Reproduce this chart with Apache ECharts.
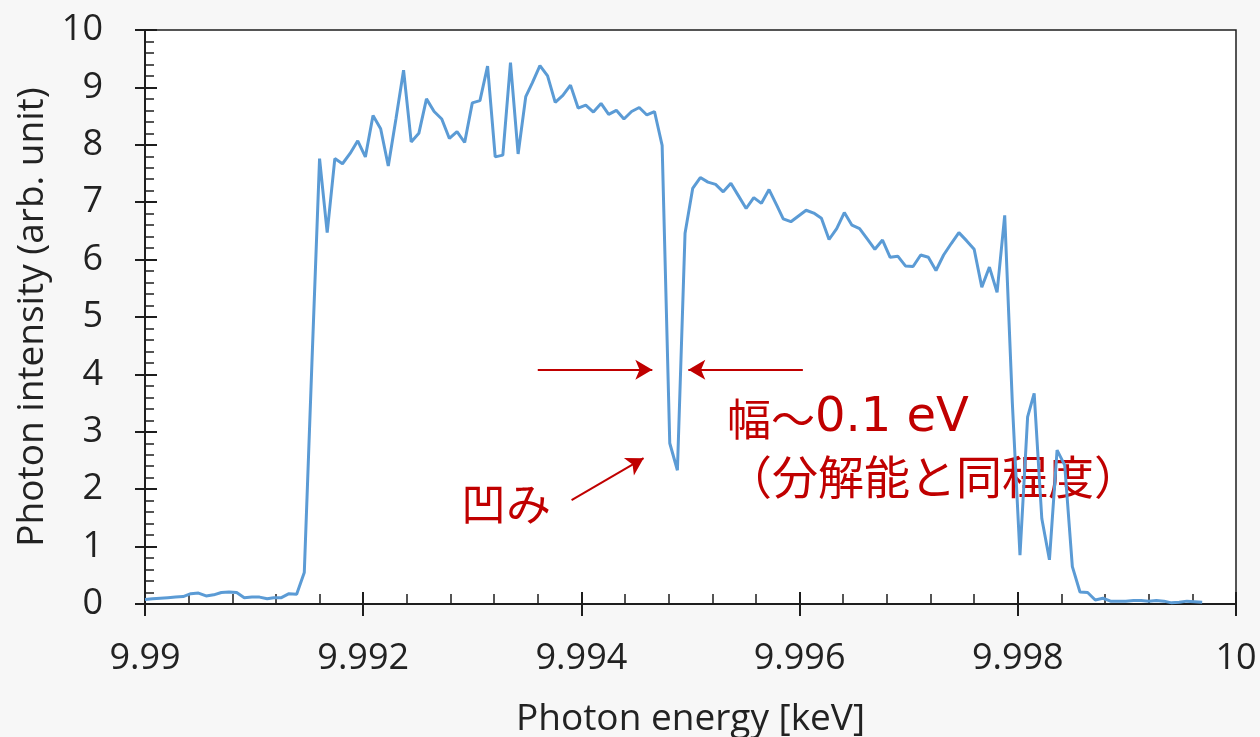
<!DOCTYPE html>
<html>
<head>
<meta charset="utf-8">
<title>Photon intensity spectrum</title>
<script src="https://cdn.jsdelivr.net/npm/echarts@6/dist/echarts.min.js"></script>
<style>
  html, body { margin: 0; padding: 0; background: #f7f7f7; }
  #chart { width: 1260px; height: 737px; }
</style>
</head>
<body>
<div id="chart"></div>
<script>
// Sampled photon energies [keV]
const ENERGY_KEV = [
  9.99000, 9.99007, 9.99014, 9.99021, 9.99028, 9.99035, 9.99042, 9.99049, 9.99056, 9.99063,
  9.99070, 9.99077, 9.99084, 9.99091, 9.99098, 9.99105, 9.99112, 9.99118, 9.99125, 9.99132,
  9.99139, 9.99146, 9.99153, 9.99160, 9.99167, 9.99174, 9.99181, 9.99188, 9.99195, 9.99202,
  9.99209, 9.99216, 9.99223, 9.99230, 9.99237, 9.99244, 9.99251, 9.99258, 9.99265, 9.99272,
  9.99279, 9.99286, 9.99293, 9.99300, 9.99307, 9.99314, 9.99321, 9.99328, 9.99335, 9.99342,
  9.99349, 9.99355, 9.99362, 9.99369, 9.99376, 9.99383, 9.99390, 9.99397, 9.99404, 9.99411,
  9.99418, 9.99425, 9.99432, 9.99439, 9.99446, 9.99453, 9.99460, 9.99467, 9.99474, 9.99481,
  9.99488, 9.99495, 9.99502, 9.99509, 9.99516, 9.99523, 9.99530, 9.99537, 9.99544, 9.99551,
  9.99558, 9.99565, 9.99572, 9.99579, 9.99585, 9.99592, 9.99599, 9.99606, 9.99613, 9.99620,
  9.99627, 9.99634, 9.99641, 9.99648, 9.99655, 9.99662, 9.99669, 9.99676, 9.99683, 9.99690,
  9.99697, 9.99704, 9.99711, 9.99718, 9.99725, 9.99732, 9.99739, 9.99746, 9.99753, 9.99760,
  9.99767, 9.99774, 9.99781, 9.99788, 9.99795, 9.99802, 9.99809, 9.99815, 9.99822, 9.99829,
  9.99836, 9.99843, 9.99850, 9.99857, 9.99864, 9.99871, 9.99878, 9.99885, 9.99892, 9.99899,
  9.99906, 9.99913, 9.99920, 9.99927, 9.99934, 9.99941, 9.99948, 9.99955, 9.99962, 9.99969
];

// Photon intensity (arb. unit) at each energy
const INTENSITY = [
  0.08, 0.09, 0.10, 0.11, 0.12, 0.13, 0.18, 0.19, 0.14, 0.16,
  0.20, 0.21, 0.20, 0.11, 0.12, 0.12, 0.09, 0.11, 0.11, 0.18,
  0.17, 0.55, 4.20, 7.76, 6.47, 7.76, 7.67, 7.85, 8.07, 7.79,
  8.51, 8.28, 7.63, 8.45, 9.30, 8.05, 8.20, 8.80, 8.58, 8.45,
  8.11, 8.23, 8.04, 8.73, 8.77, 9.37, 7.79, 7.82, 9.43, 7.84,
  8.84, 9.08, 9.38, 9.20, 8.74, 8.86, 9.04, 8.64, 8.69, 8.57,
  8.72, 8.53, 8.60, 8.45, 8.58, 8.65, 8.52, 8.58, 7.99, 2.80,
  2.33, 6.46, 7.24, 7.43, 7.35, 7.31, 7.18, 7.33, 7.11, 6.89,
  7.08, 6.98, 7.22, 6.95, 6.71, 6.66, 6.76, 6.86, 6.81, 6.72,
  6.35, 6.54, 6.82, 6.60, 6.54, 6.36, 6.18, 6.34, 6.04, 6.06,
  5.89, 5.88, 6.08, 6.04, 5.81, 6.08, 6.28, 6.47, 6.33, 6.18,
  5.52, 5.87, 5.43, 6.77, 3.50, 0.85, 3.26, 3.67, 1.49, 0.77,
  2.68, 2.42, 0.65, 0.21, 0.20, 0.07, 0.10, 0.05, 0.05, 0.05,
  0.06, 0.06, 0.05, 0.06, 0.05, 0.02, 0.03, 0.05, 0.04, 0.03
];

// Axis ranges, major and minor tick steps
const X_MIN = 9.99, X_MAX = 10, X_INTERVAL = 0.002, X_MINOR = 0.0004;
const Y_MIN = 0, Y_MAX = 10, Y_INTERVAL = 1, Y_MINOR = 0.2;

// Annotation arrows in data coordinates: [from, to]
const WIDTH_ARROW_LEFT  = [[9.99360, 4.08], [9.99465, 4.08]];
const WIDTH_ARROW_RIGHT = [[9.99603, 4.08], [9.99498, 4.08]];
const DIP_ARROW         = [[9.99391, 1.81], [9.99457, 2.54]];

const AXIS_COLOR = '#1e1e1e';
const LABEL_COLOR = '#222222';
const LINE_COLOR = '#5B9BD5';
const NOTE_COLOR = '#C00000';
const FONT = '"Open Sans", "Noto Sans", sans-serif';
const CJK_FONT = '"Noto Sans CJK JP", "Noto Sans", sans-serif';
const NOTE_LATIN_FONT = '"DejaVu Sans", "Noto Sans", sans-serif';

const chart = echarts.init(document.getElementById('chart'), null, { renderer: 'canvas' });

const seriesData = ENERGY_KEV.map((e, i) => [e, INTENSITY[i]]);

function arrowPair(pair) {
  return [{ coord: pair[0] }, { coord: pair[1] }];
}

// Tick-only axis (no line, no labels) used for crossing major ticks and minor ticks
function tickAxis(min, max, interval, position, inside, length, width) {
  return {
    type: 'value', min, max, interval, position,
    axisLine: { show: false },
    axisTick: { show: true, inside, length, lineStyle: { color: AXIS_COLOR, width } },
    axisLabel: { show: false },
    splitLine: { show: false }
  };
}

const option = {
  backgroundColor: '#f7f7f7',
  animation: false,
  grid: {
    left: 145, right: 24, top: 30, bottom: 133,
    outerBoundsMode: 'none',
    show: true, backgroundColor: '#ffffff',
    borderColor: AXIS_COLOR, borderWidth: 1.5
  },
  xAxis: [
    {
      type: 'value', min: X_MIN, max: X_MAX, interval: X_INTERVAL,
      name: 'Photon energy [keV]', nameLocation: 'middle', nameGap: 97,
      nameTextStyle: { fontFamily: FONT, fontSize: 37, color: LABEL_COLOR },
      axisLine: { show: true, lineStyle: { color: AXIS_COLOR, width: 2 } },
      axisTick: { show: true, inside: true, length: 12, lineStyle: { color: AXIS_COLOR, width: 2 } },
      axisLabel: {
        margin: 37, fontFamily: FONT, fontSize: 36, color: LABEL_COLOR,
        formatter: v => String(+v.toFixed(3))
      },
      splitLine: { show: false }
    },
    tickAxis(X_MIN, X_MAX, X_INTERVAL, 'bottom', false, 12, 2),
    tickAxis(X_MIN, X_MAX, X_MINOR, 'bottom', true, 10, 1.5)
  ],
  yAxis: [
    {
      type: 'value', min: Y_MIN, max: Y_MAX, interval: Y_INTERVAL,
      name: 'Photon intensity (arb. unit)', nameLocation: 'middle', nameGap: 90,
      nameTextStyle: { fontFamily: FONT, fontSize: 37, color: LABEL_COLOR },
      axisLine: { show: true, lineStyle: { color: AXIS_COLOR, width: 2 } },
      axisTick: { show: true, inside: true, length: 12, lineStyle: { color: AXIS_COLOR, width: 2 } },
      axisLabel: { margin: 42, fontFamily: FONT, fontSize: 36, color: LABEL_COLOR },
      splitLine: { show: false }
    },
    tickAxis(Y_MIN, Y_MAX, Y_INTERVAL, 'left', false, 10, 2),
    tickAxis(Y_MIN, Y_MAX, Y_MINOR, 'left', true, 9, 1.5)
  ],
  series: [
    {
      type: 'line',
      data: seriesData,
      showSymbol: false,
      symbol: 'none',
      lineStyle: { color: LINE_COLOR, width: 3 },
      silent: true,
      markLine: {
        silent: true,
        symbol: ['none', 'arrow'],
        symbolSize: [15, 17],
        label: { show: false },
        lineStyle: { color: NOTE_COLOR, width: 2, type: 'solid' },
        emphasis: { disabled: true },
        data: [
          arrowPair(WIDTH_ARROW_LEFT),
          arrowPair(WIDTH_ARROW_RIGHT),
          arrowPair(DIP_ARROW)
        ]
      }
    }
  ],
  graphic: [
    {
      type: 'text', x: 727, y: 419,
      style: {
        text: '{c|幅～}{l|0.1 eV}',
        fill: NOTE_COLOR, verticalAlign: 'middle',
        rich: {
          c: { fontFamily: CJK_FONT, fontSize: 44, fill: NOTE_COLOR },
          l: { fontFamily: NOTE_LATIN_FONT, fontSize: 48, fill: NOTE_COLOR }
        }
      }
    },
    {
      type: 'text', x: 726, y: 477,
      style: { text: '（分解能と同程度）', font: '46px ' + CJK_FONT, fill: NOTE_COLOR, verticalAlign: 'middle' }
    },
    {
      type: 'text', x: 461, y: 504,
      style: { text: '凹み', font: '45px ' + CJK_FONT, fill: NOTE_COLOR, verticalAlign: 'middle' }
    }
  ]
};

chart.setOption(option);
</script>
</body>
</html>
